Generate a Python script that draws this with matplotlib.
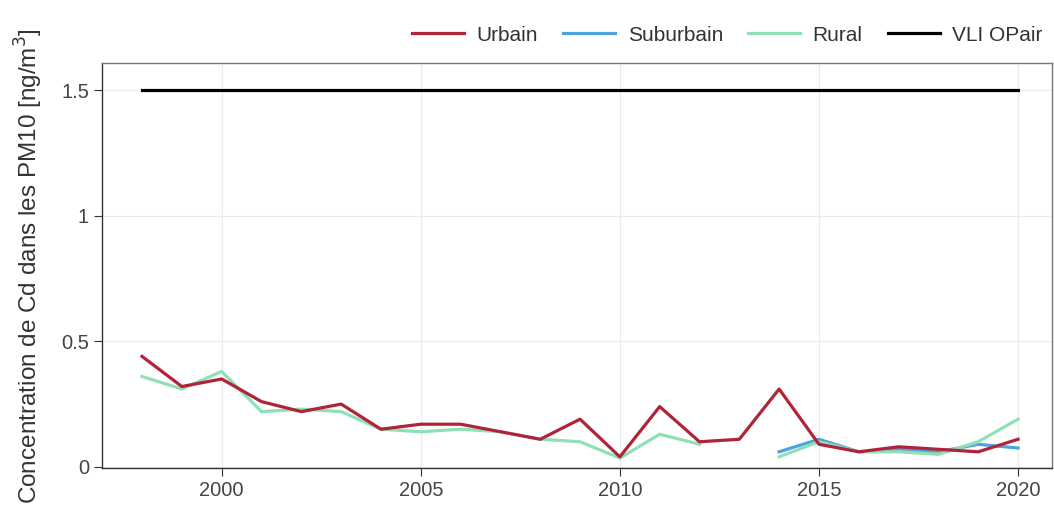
import numpy as np
import matplotlib
matplotlib.use("Agg")
import matplotlib.pyplot as plt
from matplotlib.ticker import FuncFormatter

years = list(range(1998, 2021))
urbain = [0.44, 0.32, 0.35, 0.26, 0.22, 0.25, 0.15, 0.17, 0.17, 0.14, 0.11, 0.19,
          0.04, 0.24, 0.10, 0.11, 0.31, 0.09, 0.06, 0.08, 0.07, 0.06, 0.11]
rural = [0.36, 0.31, 0.38, 0.22, 0.23, 0.22, 0.15, 0.14, 0.15, 0.14, 0.11, 0.10,
         0.035, 0.13, 0.09, np.nan, 0.04, 0.10, 0.06, 0.06, 0.05, 0.10, 0.19]
sub_years = list(range(2014, 2021))
suburbain = [0.06, 0.11, 0.06, 0.07, 0.06, 0.09, 0.075]
vli = 1.5

plt.rcParams['font.family'] = ['Liberation Sans', 'DejaVu Sans']

fig = plt.figure(figsize=(10.54, 5.15), dpi=100)
ax = fig.add_axes([0.097, 0.091, 0.901, 0.786])

ax.plot(years, urbain, color='#b02338', lw=2.3, label='Urbain', zorder=3)
ax.plot(sub_years, suburbain, color='#4ea3dc', lw=2.3, label='Suburbain', zorder=2)
ax.plot(years, rural, color='#8fe0b6', lw=2.3, label='Rural', zorder=2)
ax.plot([years[0], years[-1]], [vli, vli], color='black', lw=2.3, label='VLI OPair')

ax.set_xlim(1997, 2020.85)
ax.set_ylim(-0.005, 1.607)
ax.set_xticks([2000, 2005, 2010, 2015, 2020])
ax.set_yticks([0, 0.5, 1, 1.5])
ax.yaxis.set_major_formatter(FuncFormatter(lambda v, p: f"{v:g}"))
ax.grid(True, color='#ebebeb', lw=0.8)
ax.set_axisbelow(True)
for s in ax.spines.values():
    s.set_color('#333333')
    s.set_linewidth(1.0)
ax.spines['top'].set_color('#777777')
ax.spines['right'].set_color('#777777')
ax.tick_params(colors='#333333', labelcolor='#444444', labelsize=14.5, length=6)
ax.set_ylabel('Concentration de Cd dans les PM10 [ng/m$^3$]', fontsize=17.5,
              color='#333333', labelpad=12)

ax.legend(loc='lower right', bbox_to_anchor=(1.01, 1.0), ncol=4, frameon=False,
          fontsize=15, handlelength=2.5, columnspacing=1.2, handletextpad=0.6,
          borderaxespad=0.5, labelcolor='#333333')

fig.savefig('out.png', dpi=100)
